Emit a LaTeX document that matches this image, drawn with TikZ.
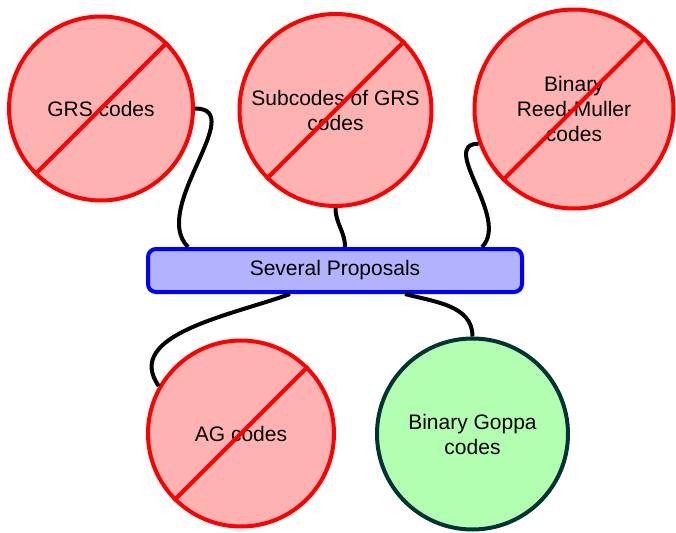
\documentclass[tikz,border=0pt]{standalone}
\usepackage{fontspec}
\setmainfont{Liberation Sans}
\definecolor{darkteal}{RGB}{0,51,51}
\begin{document}
\begin{tikzpicture}[x=0.5pt,y=0.5pt,
    every node/.style={font=\fontsize{10.5}{12.5}\selectfont,align=center,inner sep=0pt},
    crossed/.style={circle,draw=red,fill=red!30,line width=2pt},
    kept/.style={circle,draw=darkteal,fill=green!30,line width=2pt},
    proposal/.style={rectangle,rounded corners=4pt,draw=blue,fill=blue!30,line width=2pt,
      minimum width=187pt,minimum height=21.5pt},
    link/.style={line width=2pt,black},
    slash/.style={line width=2pt,red}]
  \useasboundingbox (0,0) rectangle (676,532);
  \node[crossed,minimum size=92pt](GRS) at (101,423.5) {GRS codes};
  \node[crossed,minimum size=96pt](SUB) at (335.5,422) {Subcodes of GRS\\codes};
  \node[crossed,minimum size=99.5pt](RM) at (574,423) {Binary\\Reed-Muller\\codes};
  \node[crossed,minimum size=93pt](AG) at (241,98.5) {AG codes};
  \node[kept,minimum size=95.5pt](GOP) at (472.5,98) {Binary Goppa\\codes};
  \node[proposal](P) at (335,261.5) {Several Proposals};
  \foreach \n in {GRS,SUB,RM,AG}{
    \draw[slash](\n.225)--(\n.45);
  }
  \draw[link](GRS.east) to[out=0,in=135] ([xshift=21pt]P.north west);
  \draw[link](SUB.south) to[out=-90,in=90] ([xshift=5pt]P.north);
  \draw[link](RM.200) to[out=180,in=45] ([xshift=-21pt]P.north east);
  \draw[link]([xshift=-22.5pt]P.south) to[out=200,in=125] (AG.150);
  \draw[link]([xshift=35pt]P.south) to[out=-15,in=90] (GOP.north);
\end{tikzpicture}
\end{document}
